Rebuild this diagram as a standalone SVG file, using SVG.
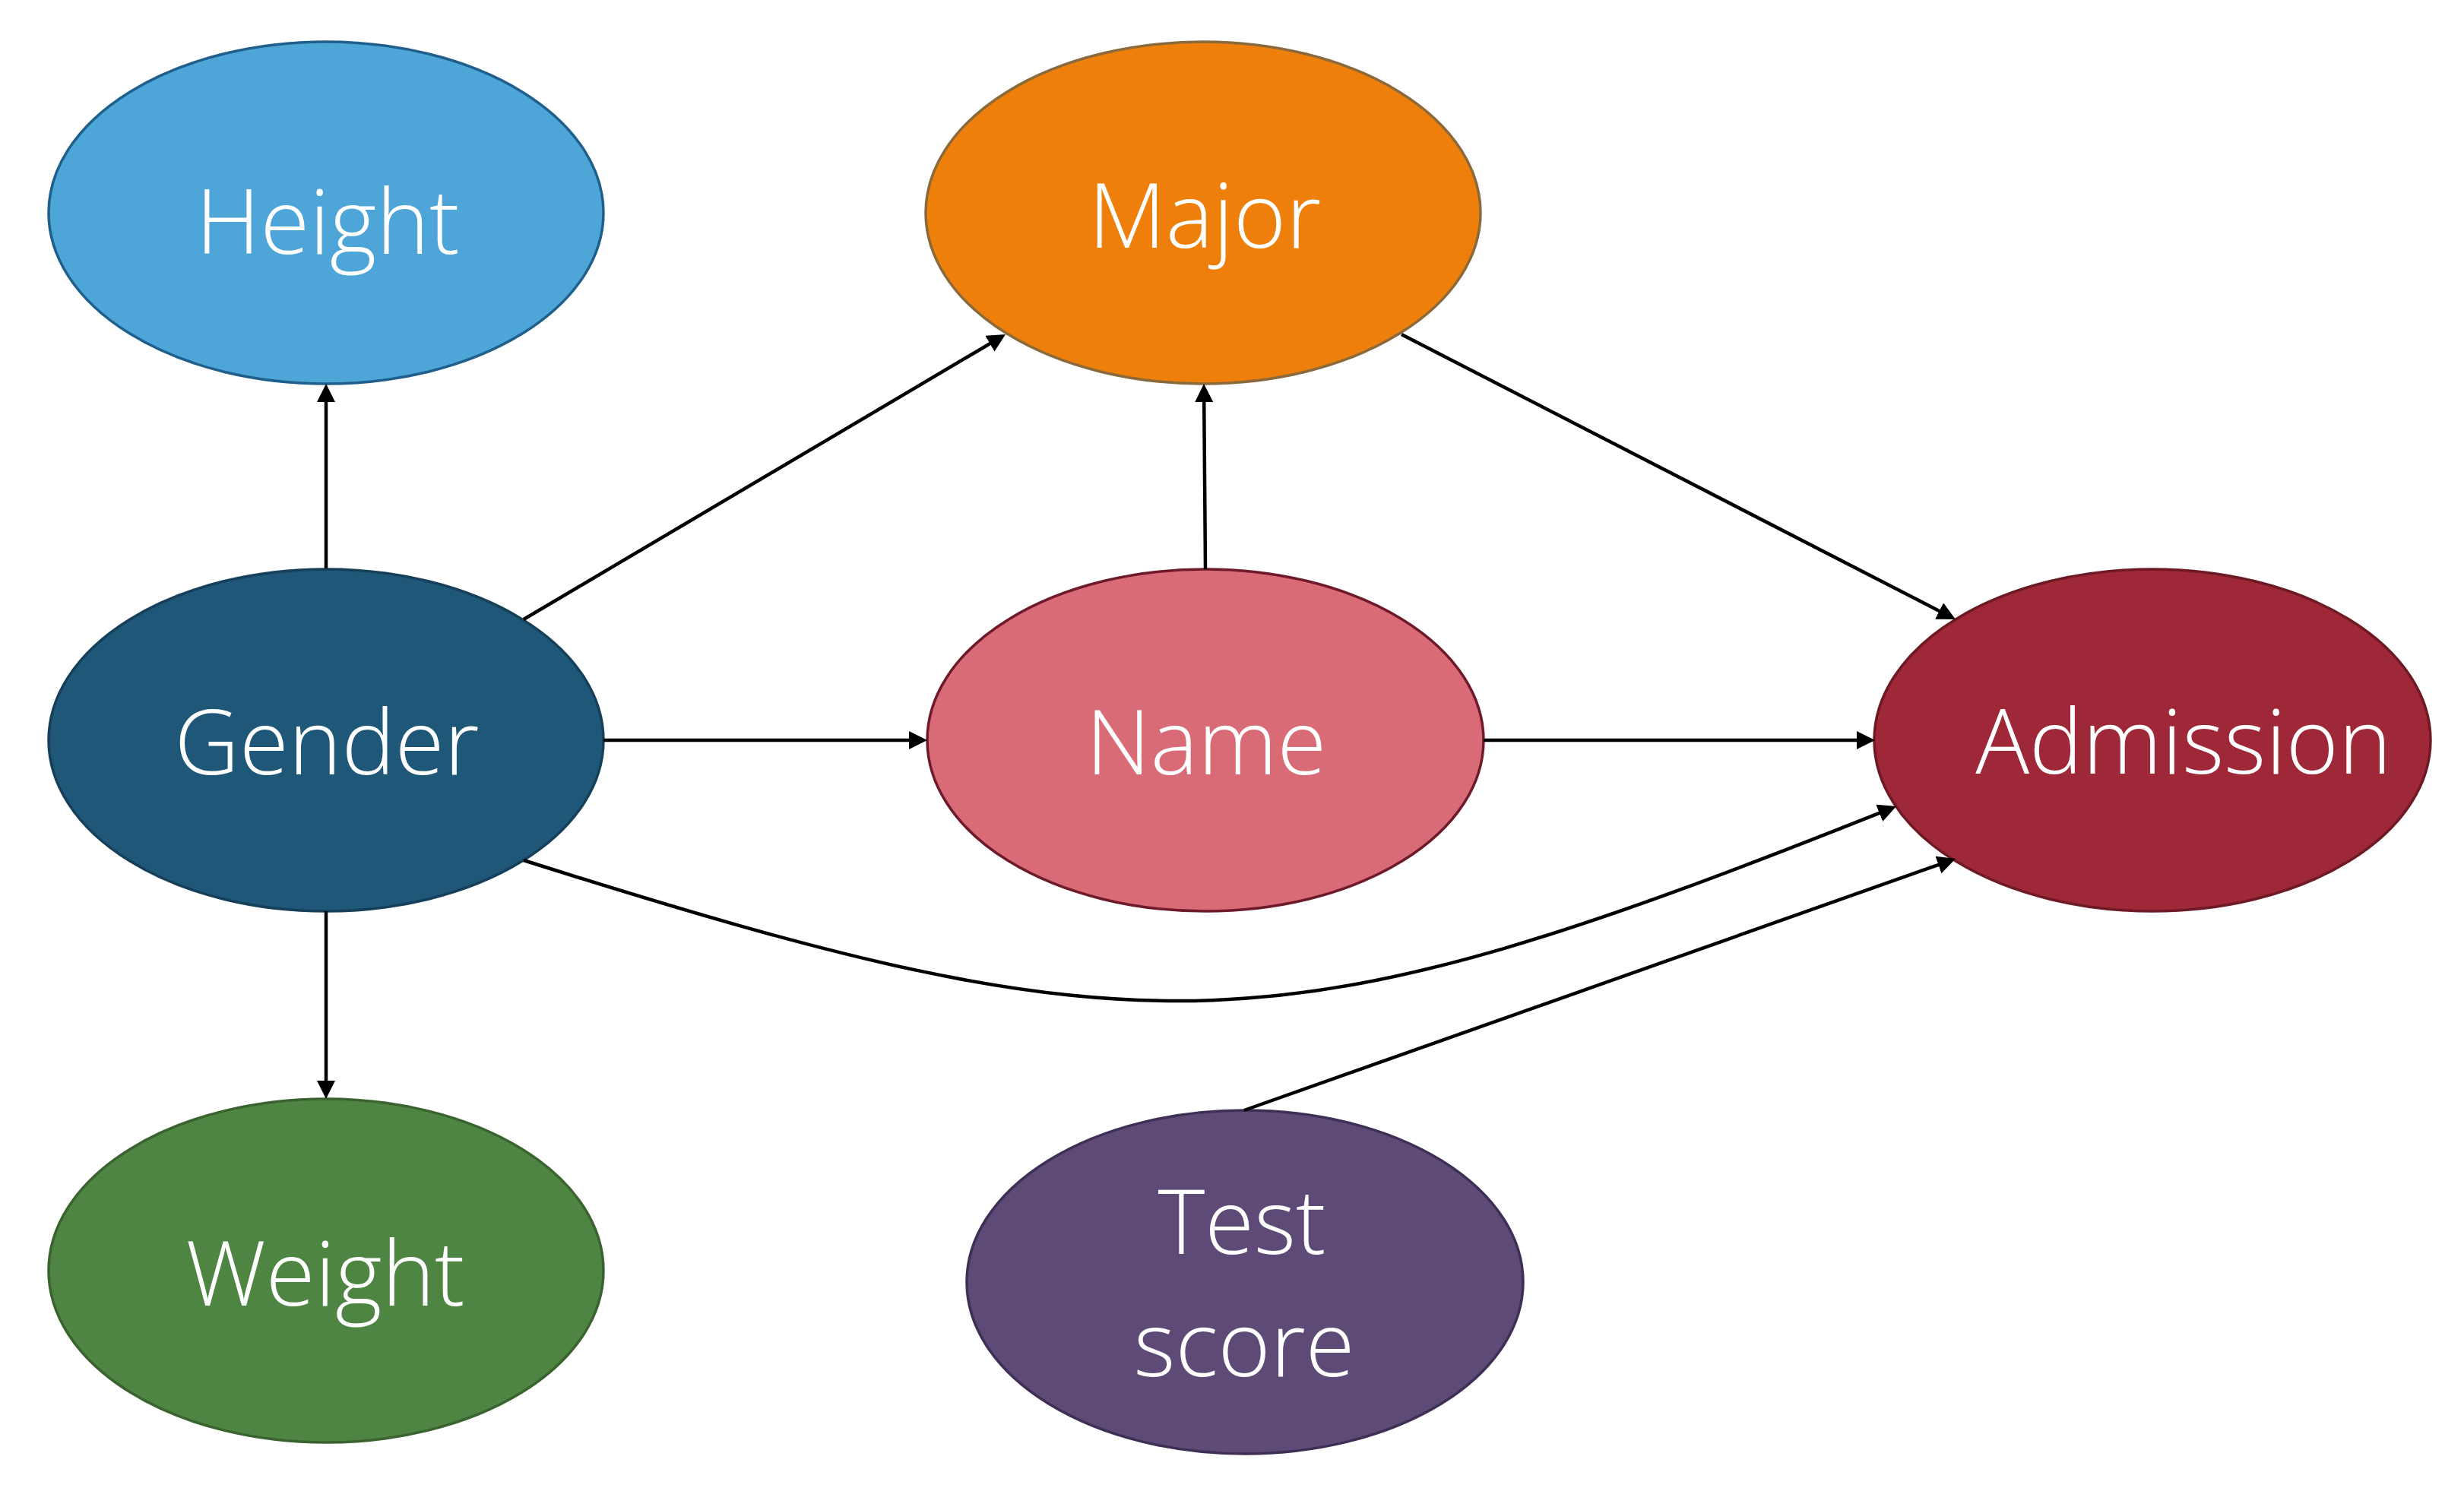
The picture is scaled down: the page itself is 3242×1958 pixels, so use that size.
<svg xmlns="http://www.w3.org/2000/svg" width="3242" height="1958" viewBox="0 0 3242 1958">
  <style>
    .node { stroke-width: 3.5; }
    .label { font-family: "Open Sans", "Liberation Sans", sans-serif; font-weight: 300; font-size: 118px; fill: #ffffff; text-anchor: middle; }
    .edge { fill: none; stroke: #000000; stroke-width: 4.5; }
  </style>
  <defs>
    <marker id="arrow" markerUnits="userSpaceOnUse" markerWidth="26" markerHeight="24" refX="2" refY="12" orient="auto">
      <path d="M0,0 L24,12 L0,24 Z" fill="#000000"/>
    </marker>
  </defs>
  <rect width="3242" height="1958" fill="#ffffff"/>

  <g id="node-height">
    <ellipse class="node" cx="429" cy="280" rx="365" ry="225" fill="#4EA5D7" stroke="#1F5F8B"/>
    <text class="label" x="431" y="334">Height</text>
  </g>
  <g id="node-major">
    <ellipse class="node" cx="1583" cy="280" rx="365" ry="225" fill="#EE7F0B" stroke="#8A6A3C"/>
    <text class="label" x="1585" y="326">Major</text>
  </g>
  <g id="node-gender">
    <ellipse class="node" cx="429" cy="974" rx="365" ry="225" fill="#1F5779" stroke="#163F5A"/>
    <text class="label" x="430" y="1019">Gender</text>
  </g>
  <g id="node-name">
    <ellipse class="node" cx="1586" cy="974" rx="366" ry="225" fill="#D86B76" stroke="#6E1A2A"/>
    <text class="label" x="1587" y="1019">Name</text>
  </g>
  <g id="node-admission">
    <ellipse class="node" cx="2832" cy="974" rx="366" ry="225" fill="#9E2837" stroke="#6E1A25"/>
    <text class="label" x="2873" y="1018">Admission</text>
  </g>
  <g id="node-weight">
    <ellipse class="node" cx="429" cy="1672" rx="365" ry="226" fill="#4E8542" stroke="#3A6330"/>
    <text class="label" x="428" y="1718">Weight</text>
  </g>
  <g id="node-testscore">
    <ellipse class="node" cx="1638" cy="1687" rx="366" ry="226" fill="#5E4A76" stroke="#3E2F55"/>
    <text class="label" x="1634" y="1650">Test</text>
    <text class="label" x="1637" y="1811">score</text>
  </g>

  <g id="connectors">
    <line class="edge" x1="429" y1="748" x2="429" y2="527" marker-end="url(#arrow)"/>
    <line class="edge" x1="429" y1="1199" x2="429" y2="1424" marker-end="url(#arrow)"/>
    <line class="edge" x1="794" y1="974" x2="1198" y2="974" marker-end="url(#arrow)"/>
    <line class="edge" x1="1952" y1="974" x2="2445" y2="974" marker-end="url(#arrow)"/>
    <line class="edge" x1="1586" y1="749" x2="1584.2" y2="527" marker-end="url(#arrow)"/>
    <line class="edge" x1="689" y1="815" x2="1304.1" y2="451.2" marker-end="url(#arrow)"/>
    <line class="edge" x1="1844" y1="440" x2="2553.4" y2="804.9" marker-end="url(#arrow)"/>
    <path class="edge" d="M689,1132 C1512,1393 1686,1383 2474.6,1069.1" marker-end="url(#arrow)"/>
    <line class="edge" x1="1637" y1="1461" x2="2552.3" y2="1137.3" marker-end="url(#arrow)"/>
  </g>
</svg>
